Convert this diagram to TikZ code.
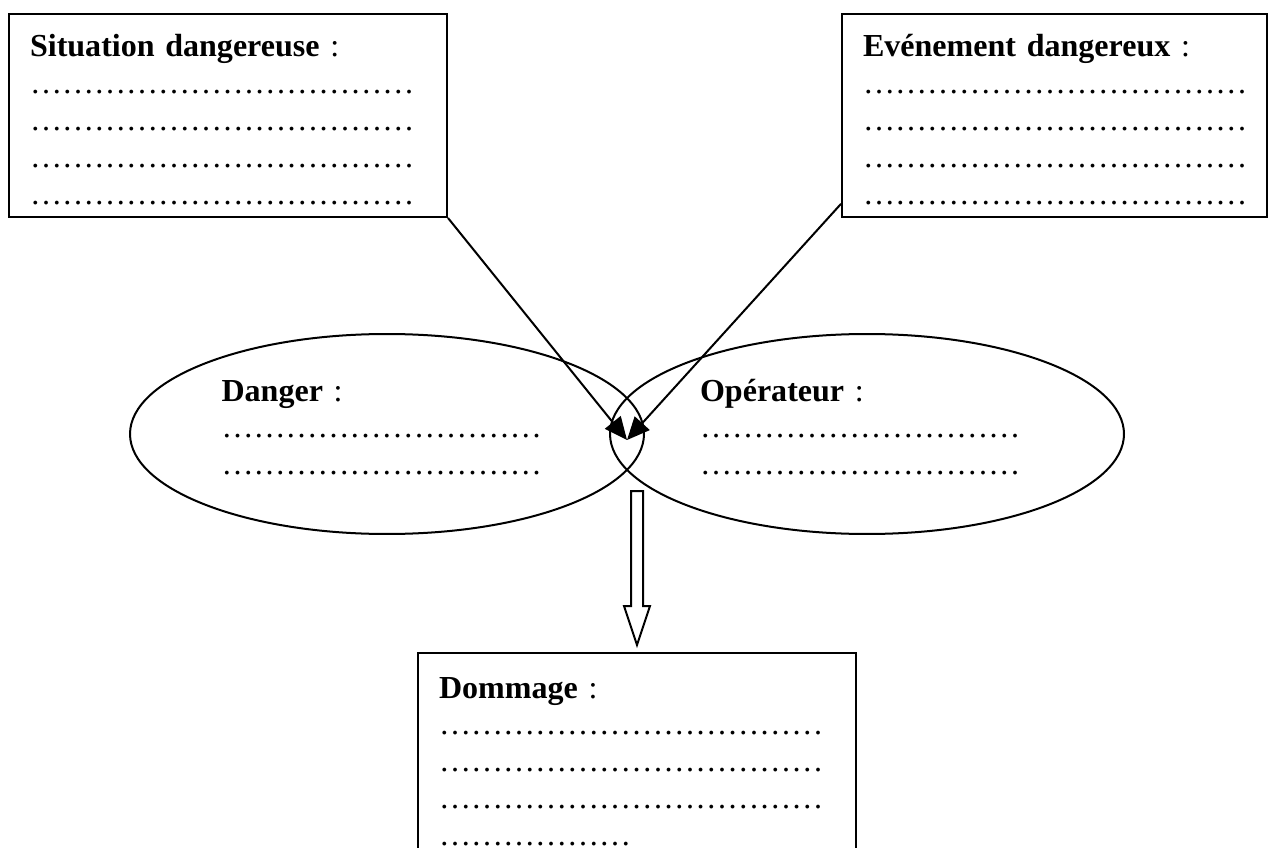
\documentclass[tikz,border=0pt]{standalone}
\usepackage{fontspec}
\setmainfont{Liberation Serif}
\usetikzlibrary{fit,shapes.geometric,arrows.meta,calc}
\newcommand{\elp}{…}
\newcommand{\rowtwelve}{\elp\elp\elp\elp\elp\elp\elp\elp\elp\elp\elp\elp}
\newcommand{\rowten}{\elp\elp\elp\elp\elp\elp\elp\elp\elp\elp}
\newcommand{\rowsix}{\elp\elp\elp\elp\elp\elp}
\tikzset{
  px/.style={x={(0.37453pt,0)},y={(0,-0.37453pt)}},
  framebox/.style={draw,line width=0.75pt,inner sep=0pt,rectangle},
  oval/.style={draw,line width=0.75pt,ellipse,inner sep=0pt,
    minimum width=192.5pt,minimum height=74.9pt},
  label/.style={anchor=base west,inner sep=0pt,align=left,text width=170pt,
    font=\fontsize{12}{13.8}\selectfont},
  link/.style={line width=0.75pt,-{Triangle[length=8.5pt,width=7.5pt]}},
  hollow/.style={draw,line width=0.75pt,fill=white,line join=miter}
}
\begin{document}
\begin{tikzpicture}[px]
\clip (0,0) rectangle (1270,848);
\fill[white] (0,0) rectangle (1270,848);
% ellipses
\node[oval] (dan) at (387,434) {};
\node[oval] (op) at (867,434) {};
% boxes
\node[framebox,fit={(9,14) (447,217)}] (sd) {};
\node[framebox,fit={(842,14) (1267,217)}] (ed) {};
\node[framebox,fit={(418,653) (856,880)}] (dom) {};
% texts
\node[label] (sdt) at (29.5,57) {\textbf{Situation dangereuse} :\\\rowtwelve\\\rowtwelve\\\rowtwelve\\\rowtwelve};
\node[label] (edt) at (862.5,57) {\textbf{Evénement dangereux} :\\\rowtwelve\\\rowtwelve\\\rowtwelve\\\rowtwelve};
\node[label] (dant) at (221,401) {\textbf{Danger} :\\\rowten\\\rowten};
\node[label] (opt) at (699.5,401) {\textbf{Opérateur} :\\\rowten\\\rowten};
\node[label] (domt) at (438.5,698) {\textbf{Dommage} :\\\rowtwelve\\\rowtwelve\\\rowtwelve\\\rowsix};
% connectors
\coordinate (impact) at (627,440);
\draw[link] (sd.south east) -- (impact);
\draw[link] ($(ed.south west)!0.069!(ed.north west)$) -- (impact);
% block arrow down to Dommage
\draw[hollow] ($(dom.north)+(-6,-161)$) -- ($(dom.north)+(6,-161)$)
  -- ($(dom.north)+(6,-46)$) -- ($(dom.north)+(13,-46)$)
  -- ($(dom.north)+(0,-7)$) -- ($(dom.north)+(-13,-46)$)
  -- ($(dom.north)+(-6,-46)$) -- cycle;
\end{tikzpicture}
\end{document}
